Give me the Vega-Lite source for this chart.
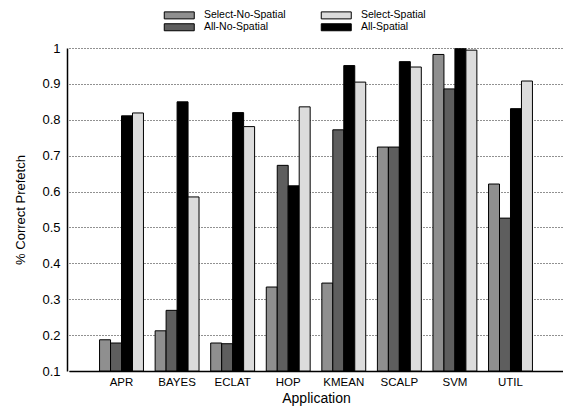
{
  "$schema": "https://vega.github.io/schema/vega-lite/v6.json",
  "width": 496,
  "height": 323,
  "autosize": {"type": "none"},
  "padding": {"left": 67, "top": 48, "right": 0, "bottom": 37},
  "background": "white",
  "config": {
    "font": "Liberation Sans",
    "view": {"stroke": null},
    "axis": {"labelColor": "#000", "titleColor": "#000", "titleFontWeight": "normal", "domainColor": "#000", "domainWidth": 1.5}
  },
  "data": {
    "values": [
      {"app": "APR", "series": "Select-No-Spatial", "value": 0.187},
      {"app": "APR", "series": "All-No-Spatial", "value": 0.178},
      {"app": "APR", "series": "All-Spatial", "value": 0.811},
      {"app": "APR", "series": "Select-Spatial", "value": 0.819},
      {"app": "BAYES", "series": "Select-No-Spatial", "value": 0.212},
      {"app": "BAYES", "series": "All-No-Spatial", "value": 0.269},
      {"app": "BAYES", "series": "All-Spatial", "value": 0.85},
      {"app": "BAYES", "series": "Select-Spatial", "value": 0.585},
      {"app": "ECLAT", "series": "Select-No-Spatial", "value": 0.178},
      {"app": "ECLAT", "series": "All-No-Spatial", "value": 0.176},
      {"app": "ECLAT", "series": "All-Spatial", "value": 0.82},
      {"app": "ECLAT", "series": "Select-Spatial", "value": 0.781},
      {"app": "HOP", "series": "Select-No-Spatial", "value": 0.334},
      {"app": "HOP", "series": "All-No-Spatial", "value": 0.673},
      {"app": "HOP", "series": "All-Spatial", "value": 0.616},
      {"app": "HOP", "series": "Select-Spatial", "value": 0.836},
      {"app": "KMEAN", "series": "Select-No-Spatial", "value": 0.345},
      {"app": "KMEAN", "series": "All-No-Spatial", "value": 0.772},
      {"app": "KMEAN", "series": "All-Spatial", "value": 0.951},
      {"app": "KMEAN", "series": "Select-Spatial", "value": 0.905},
      {"app": "SCALP", "series": "Select-No-Spatial", "value": 0.724},
      {"app": "SCALP", "series": "All-No-Spatial", "value": 0.724},
      {"app": "SCALP", "series": "All-Spatial", "value": 0.962},
      {"app": "SCALP", "series": "Select-Spatial", "value": 0.947},
      {"app": "SVM", "series": "Select-No-Spatial", "value": 0.982},
      {"app": "SVM", "series": "All-No-Spatial", "value": 0.886},
      {"app": "SVM", "series": "All-Spatial", "value": 0.998},
      {"app": "SVM", "series": "Select-Spatial", "value": 0.994},
      {"app": "UTIL", "series": "Select-No-Spatial", "value": 0.621},
      {"app": "UTIL", "series": "All-No-Spatial", "value": 0.526},
      {"app": "UTIL", "series": "All-Spatial", "value": 0.831},
      {"app": "UTIL", "series": "Select-Spatial", "value": 0.908}
    ]
  },
  "mark": {"type": "bar", "stroke": "#000", "strokeWidth": 1},
  "encoding": {
    "x": {
      "field": "app",
      "type": "nominal",
      "sort": null,
      "title": "Application",
      "scale": {"paddingInner": 0.21, "paddingOuter": 0.55, "range": [2, 496]},
      "axis": {"labelAngle": 0, "ticks": false, "labelFontSize": 11.5, "labelPadding": 5, "titleFontSize": 14, "titlePadding": 4}
    },
    "xOffset": {
      "field": "series",
      "type": "nominal",
      "sort": ["Select-No-Spatial", "All-No-Spatial", "All-Spatial", "Select-Spatial"],
      "scale": {"paddingInner": 0, "paddingOuter": 0}
    },
    "y": {
      "field": "value",
      "type": "quantitative",
      "title": "% Correct Prefetch",
      "scale": {"domain": [0.1, 1], "nice": false, "zero": false},
      "axis": {
        "values": [0.1, 0.2, 0.3, 0.4, 0.5, 0.6, 0.7, 0.8, 0.9, 1],
        "format": ".1~f",
        "ticks": false,
        "labelPadding": 7,
        "labelFontSize": 13,
        "titleFontSize": 13,
        "titlePadding": 14,
        "grid": true,
        "gridColor": "#222",
        "gridDash": [1, 2],
        "gridWidth": 1
      }
    },
    "y2": {"datum": 0.1},
    "color": {
      "field": "series",
      "type": "nominal",
      "scale": {
        "domain": ["Select-No-Spatial", "All-No-Spatial", "Select-Spatial", "All-Spatial"],
        "range": ["#8f8f8f", "#5e5e5e", "#dcdcdc", "#000000"]
      },
      "legend": {
        "title": null,
        "orient": "none",
        "legendX": 96,
        "legendY": -38,
        "columns": 2,
        "padding": 0,
        "rowPadding": 0,
        "columnPadding": 33,
        "symbolType": "M-1,-0.875H6.5V0.875H-1Z",
        "symbolSize": 64,
        "symbolStrokeColor": "#000",
        "symbolStrokeWidth": 1,
        "labelOffset": 30.4,
        "labelFontSize": 10.5,
        "labelColor": "#000"
      }
    }
  }
}
